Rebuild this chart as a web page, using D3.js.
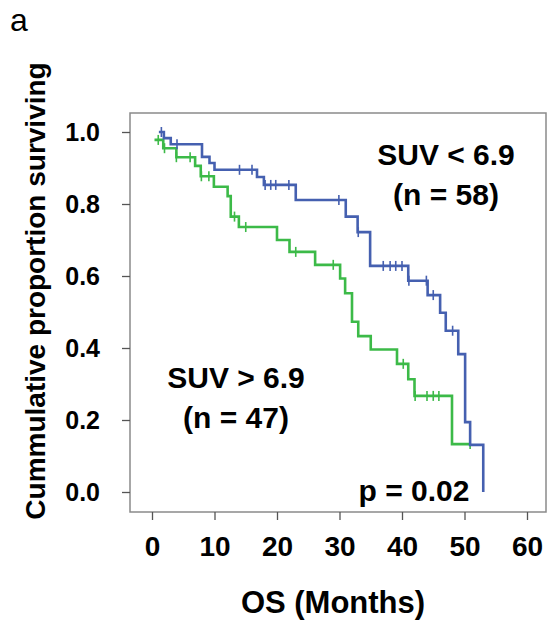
<!DOCTYPE html>
<html>
<head>
<meta charset="utf-8">
<script src="https://cdn.jsdelivr.net/npm/d3@7"></script>
<style>
  body { margin: 0; background: #fff; }
  text { font-family: Arial, "Liberation Sans", sans-serif; }
</style>
</head>
<body>
<div id="chart"></div>
<script>
// KM steps: time of event and survival after it
var lowTimes = [1.1, 1.9, 3.0, 8.0, 9.2, 10.0, 16.8, 17.9, 23.0, 31.0, 32.9, 34.9, 41.0, 44.1, 46.1, 47.0, 49.0, 50.1, 50.9, 53.0];
var lowSurv  = [1.0, 0.983, 0.966, 0.931, 0.914, 0.895, 0.875, 0.853, 0.811, 0.765, 0.722, 0.628, 0.587, 0.547, 0.498, 0.448, 0.383, 0.194, 0.131, 0.0];
var lowCensT = [1.5, 4.0, 14.0, 16.0, 18.1, 19.0, 19.8, 21.9, 29.9, 33.0, 37.0, 38.1, 39.0, 40.0, 41.1, 43.9, 45.0, 48.1];
var lowCensS = [1.0, 0.966, 0.895, 0.895, 0.853, 0.853, 0.853, 0.853, 0.811, 0.722, 0.628, 0.628, 0.628, 0.628, 0.587, 0.587, 0.547, 0.448];

var highTimes = [0.4, 1.8, 3.9, 6.9, 7.8, 9.9, 12.1, 12.6, 13.9, 20.0, 22.0, 26.1, 30.1, 30.9, 32.0, 33.0, 35.0, 39.2, 41.0, 42.0, 48.0, 50.9];
var highSurv  = [0.978, 0.955, 0.93, 0.906, 0.877, 0.848, 0.822, 0.765, 0.736, 0.70, 0.667, 0.631, 0.593, 0.552, 0.473, 0.433, 0.396, 0.356, 0.313, 0.267, 0.133, 0.133];
var highCensT = [1.0, 2.0, 3.9, 6.1, 7.9, 9.1, 13.2, 15.0, 23.0, 29.0, 40.2, 42.1, 44.0, 45.0, 45.9, 50.9];
var highCensS = [0.978, 0.955, 0.93, 0.93, 0.877, 0.877, 0.765, 0.736, 0.667, 0.631, 0.356, 0.267, 0.267, 0.267, 0.267, 0.133];

var xTicks = [0, 10, 20, 30, 40, 50, 60];
var yTicks = [0, 0.2, 0.4, 0.6, 0.8, 1.0];

var blue = "#4560b0", green = "#3cba48";

var svg = d3.select("#chart").append("svg")
  .attr("width", 551)
  .attr("height", 625);

var x = d3.scaleLinear().domain([0, 60]).range([152, 527]);
var y = d3.scaleLinear().domain([0, 1]).range([492, 132]);

// frame
svg.append("rect")
  .attr("x", 130).attr("y", 113)
  .attr("width", 416).attr("height", 399)
  .attr("fill", "none")
  .attr("stroke", "#8a8a8a")
  .attr("stroke-width", 1.5);

// x axis
var xAxis = svg.append("g")
  .attr("transform", "translate(0,512)")
  .call(d3.axisBottom(x).tickValues(xTicks).tickSize(8).tickPadding(16).tickFormat(d3.format("d")));
xAxis.select(".domain").remove();
xAxis.selectAll("line").attr("stroke", "#555").attr("stroke-width", 1.3);
xAxis.selectAll("text")
  .attr("fill", "#000")
  .style("font-size", "28px")
  .style("font-weight", "bold");

// y axis
var yAxis = svg.append("g")
  .attr("transform", "translate(130,0)")
  .call(d3.axisLeft(y).tickValues(yTicks).tickSize(8).tickPadding(22).tickFormat(d3.format(".1f")));
yAxis.select(".domain").remove();
yAxis.selectAll("line").attr("stroke", "#555").attr("stroke-width", 1.3);
yAxis.selectAll("text")
  .attr("fill", "#000")
  .style("font-size", "25px")
  .style("font-weight", "bold");

// curves
var line = d3.line()
  .x(function(d) { return x(d[0]); })
  .y(function(d) { return y(d[1]); })
  .curve(d3.curveStepAfter);

function drawCurve(times, surv, censT, censS, color) {
  var pts = times.map(function(t, i) { return [t, surv[i]]; });
  svg.append("path")
    .datum(pts)
    .attr("d", line)
    .attr("fill", "none")
    .attr("stroke", color)
    .attr("stroke-width", 2.6);

  var cens = censT.map(function(t, i) { return [t, censS[i]]; });
  svg.selectAll(null)
    .data(cens)
    .enter()
    .append("line")
    .attr("x1", function(d) { return x(d[0]); })
    .attr("x2", function(d) { return x(d[0]); })
    .attr("y1", function(d) { return y(d[1]) - 5; })
    .attr("y2", function(d) { return y(d[1]) + 5; })
    .attr("stroke", color)
    .attr("stroke-width", 1.6);
}

drawCurve(highTimes, highSurv, highCensT, highCensS, green);
drawCurve(lowTimes, lowSurv, lowCensT, lowCensS, blue);

// labels
function label(txt, cx, by, size) {
  svg.append("text")
    .attr("x", cx).attr("y", by)
    .attr("text-anchor", "middle")
    .style("font-size", size + "px")
    .style("font-weight", "bold")
    .text(txt);
}
label("SUV < 6.9", 446, 165, 30);
label("(n = 58)", 446, 205, 30);
label("SUV > 6.9", 236, 388, 30);
label("(n = 47)", 236, 428, 30);
label("p = 0.02", 414, 501, 30);
label("OS (Months)", 333, 613, 31);

svg.append("text")
  .attr("transform", "translate(45,291) rotate(-90)")
  .attr("text-anchor", "middle")
  .style("font-size", "28px")
  .style("font-weight", "bold")
  .text("Cummulative proportion surviving");

svg.append("text")
  .attr("x", 10).attr("y", 31)
  .style("font-size", "32px")
  .text("a");
</script>
</body>
</html>
